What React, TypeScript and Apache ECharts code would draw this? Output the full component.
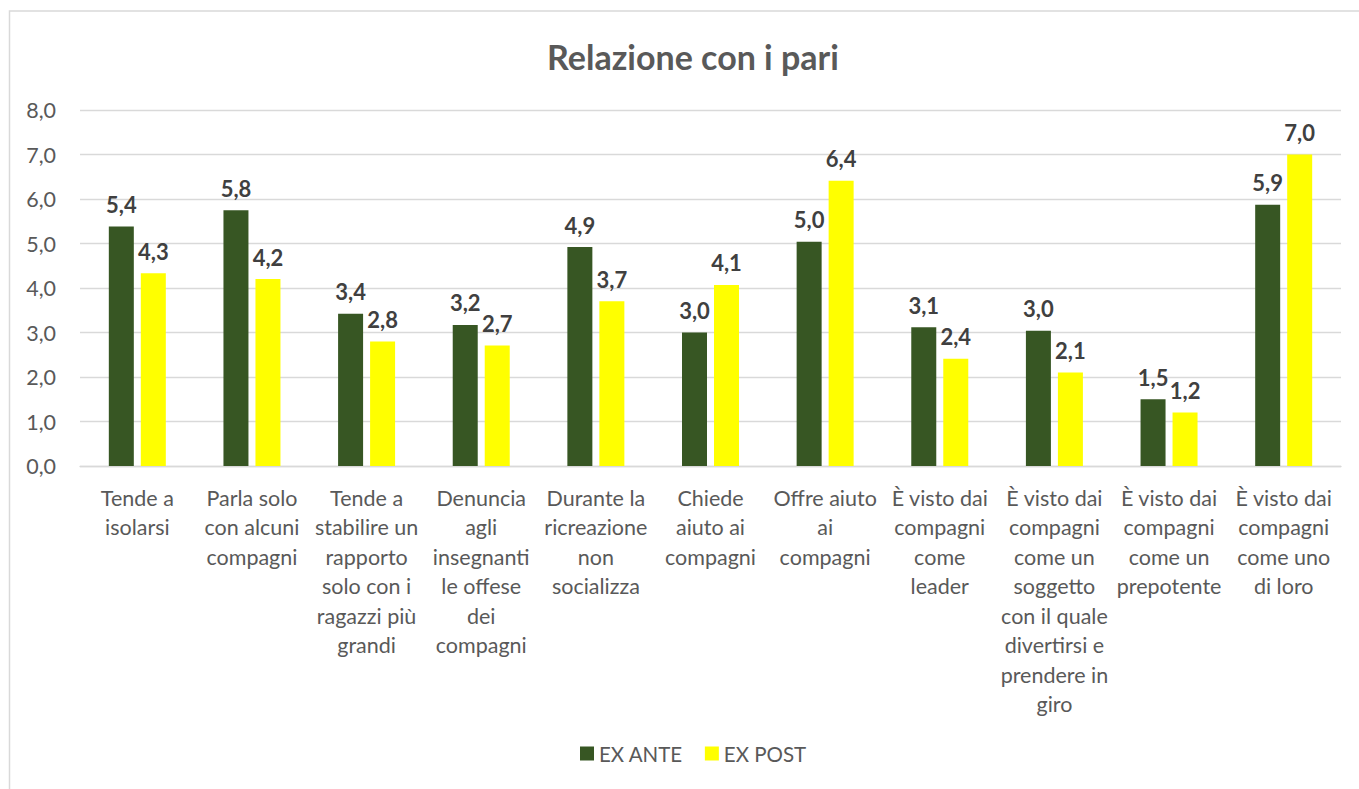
import React, { useEffect, useRef } from "react";
import * as echarts from "echarts";

const categories = [
  "Tende a\nisolarsi",
  "Parla solo\ncon alcuni\ncompagni",
  "Tende a\nstabilire un\nrapporto\nsolo con i\nragazzi più\ngrandi",
  "Denuncia\nagli\ninsegnanti\nle offese\ndei\ncompagni",
  "Durante la\nricreazione\nnon\nsocializza",
  "Chiede\naiuto ai\ncompagni",
  "Offre aiuto\nai\ncompagni",
  "È visto dai\ncompagni\ncome\nleader",
  "È visto dai\ncompagni\ncome un\nsoggetto\ncon il quale\ndivertirsi e\nprendere in\ngiro",
  "È visto dai\ncompagni\ncome un\nprepotente",
  "È visto dai\ncompagni\ncome uno\ndi loro",
];

const exAnte = [5.38, 5.75, 3.42, 3.17, 4.92, 3.0, 5.04, 3.12, 3.04, 1.5, 5.87];
const exPost = [4.33, 4.2, 2.8, 2.71, 3.7, 4.07, 6.41, 2.41, 2.1, 1.2, 7.0];

const seriesNames = ["EX ANTE", "EX POST"];
const yMin = 0;
const yMax = 8;
const yInterval = 1;

const FONT = "Lato, 'Open Sans', sans-serif";
const fmt = (v: number) => v.toFixed(1).replace(".", ",");

export default function App() {
  const ref = useRef<HTMLDivElement>(null);

  useEffect(() => {
    if (!ref.current) return;
    const chart = echarts.init(ref.current, null, { renderer: "svg" });
    const labelStyle = {
      show: true,
      position: "top" as const,
      distance: 11,
      formatter: (p: any) => fmt(p.value),
      fontFamily: FONT,
      fontWeight: "bold" as const,
      fontSize: 22,
      color: "#404040",
    };
    chart.setOption({
      animation: false,
      backgroundColor: "#ffffff",
      textStyle: { fontFamily: FONT },
      title: {
        text: "Relazione con i pari",
        left: 688,
        top: 34,
        textAlign: "center",
        textStyle: {
          fontFamily: FONT,
          fontWeight: "bold",
          fontSize: 34,
          color: "#595959",
        },
      },
      graphic: [
        {
          type: "rect",
          shape: { x: 9.5, y: 11, width: 1400, height: 900 },
          style: { fill: "none", stroke: "#d9d9d9", lineWidth: 1.5 },
          silent: true,
          z: -10,
        },
      ],
      legend: {
        bottom: 20,
        left: 575,
        itemWidth: 14,
        itemHeight: 14,
        itemGap: 22,
        icon: "rect",
        textStyle: { fontFamily: FONT, fontSize: 20.5, color: "#595959" },
        data: seriesNames,
      },
      grid: { left: 80, right: 18, top: 110, bottom: 323, containLabel: false },
      xAxis: {
        type: "category",
        data: categories,
        axisLine: { show: true, lineStyle: { color: "#d9d9d9", width: 1.3 } },
        axisTick: { show: false },
        axisLabel: {
          interval: 0,
          margin: 17,
          fontFamily: FONT,
          fontSize: 21.5,
          lineHeight: 29.5,
          color: "#595959",
          align: "center",
        },
      },
      yAxis: {
        type: "value",
        min: yMin,
        max: yMax,
        interval: yInterval,
        axisLine: { show: false },
        axisTick: { show: false },
        splitLine: { lineStyle: { color: "#d9d9d9", width: 1.3 } },
        axisLabel: {
          margin: 24,
          formatter: (v: number) => fmt(v),
          fontFamily: FONT,
          fontSize: 21.5,
          color: "#595959",
        },
      },
      series: [
        {
          name: seriesNames[0],
          type: "bar",
          data: exAnte,
          barWidth: 25,
          barGap: "28%",
          itemStyle: { color: "#375623" },
          label: labelStyle,
        },
        {
          name: seriesNames[1],
          type: "bar",
          data: exPost,
          barWidth: 25,
          barGap: "28%",
          itemStyle: { color: "#ffff00" },
          label: labelStyle,
        },
      ],
    });
    return () => chart.dispose();
  }, []);

  return (
    <div
      ref={ref}
      style={{ position: "absolute", left: 0, top: 0, width: 1359, height: 789 }}
    />
  );
}
